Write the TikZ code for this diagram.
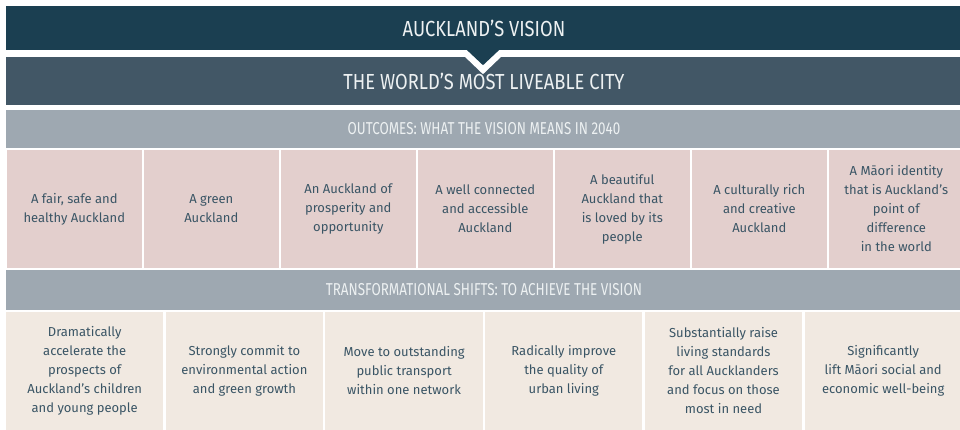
\documentclass[tikz,border=0pt]{standalone}
\usepackage{fontspec}
\setmainfont{Fira Sans}
\newfontfamily\headfont[FakeStretch=0.84]{Fira Sans}
\newfontfamily\bandfont[FakeStretch=0.78]{Fira Sans}
\usetikzlibrary{positioning,calc}
\definecolor{visionblue}{HTML}{1B3F51}
\definecolor{cityblue}{HTML}{425766}
\definecolor{bandgrey}{HTML}{9EA8B1}
\definecolor{outcomepink}{HTML}{E3CFCD}
\definecolor{shiftbeige}{HTML}{F1E9E1}
\definecolor{celltext}{HTML}{3A5565}
\definecolor{headtext}{HTML}{EDF1F2}
\begin{document}
\begin{tikzpicture}[x=1pt,y=-1pt,
    banner/.style={inner sep=0pt, minimum width=956pt, text=headtext},
    outcomecell/.style={fill=outcomepink, inner sep=0pt, minimum width=134.6pt, minimum height=118pt, align=center, text=celltext, font=\fontsize{13}{19}\selectfont},
    shiftcell/.style={fill=shiftbeige, inner sep=0pt, minimum width=157.3pt, minimum height=118pt, align=center, text=celltext, font=\fontsize{13}{19}\selectfont}]
    \useasboundingbox (0,0) rectangle (960,430);
    \node [banner, fill=visionblue, minimum height=44pt, font=\headfont\fontsize{21.8}{22}\selectfont] (vision) at (484,28) {AUCKLAND’S VISION};
    \node [banner, fill=cityblue, minimum height=48pt, font=\headfont\fontsize{21.8}{22}\selectfont] (city) at (484,81) {THE WORLD’S MOST LIVEABLE CITY};
    \fill [white] ($(vision.south)+(-26,0)$) -- ($(vision.south)+(24,0)$) -- ($(vision.south)+(-1,24)$) -- cycle;
    \fill [visionblue] ($(vision.south)+(-18,-1)$) -- ($(vision.south)+(16,-1)$) -- ($(vision.south)+(-1,15)$) -- cycle;
    \node [banner, fill=bandgrey, minimum height=38pt, font=\bandfont\fontsize{17.2}{18}\selectfont] (outcomes) at (484,129) {OUTCOMES: WHAT THE VISION MEANS IN 2040};

    \node [outcomecell] (o1) at (74.3,209) {A fair, safe and\\healthy Auckland};
    \node [outcomecell, right=2pt of o1] (o2) {A green\\Auckland};
    \node [outcomecell, right=2pt of o2] (o3) {An Auckland of\\prosperity and\\opportunity};
    \node [outcomecell, right=2pt of o3] (o4) {A well connected\\and accessible\\Auckland};
    \node [outcomecell, right=2pt of o4] (o5) {A beautiful\\Auckland that\\is loved by its\\people};
    \node [outcomecell, right=2pt of o5] (o6) {A culturally rich\\and creative\\Auckland};
    \node [outcomecell, right=2pt of o6] (o7) {A Māori identity\\that is Auckland’s\\point of\\difference\\in the world};

    \node [banner, fill=bandgrey, minimum height=40pt, font=\bandfont\fontsize{17.2}{18}\selectfont] (shifts) at (484,290) {TRANSFORMATIONAL SHIFTS: TO ACHIEVE THE VISION};

    \node [shiftcell] (s1) at (84.7,371) {Dramatically\\accelerate the\\prospects of\\Auckland’s children\\and young people};
    \node [shiftcell, right=2pt of s1] (s2) {Strongly commit to\\environmental action\\and green growth};
    \node [shiftcell, right=2pt of s2] (s3) {Move to outstanding\\public transport\\within one network};
    \node [shiftcell, right=2pt of s3] (s4) {Radically improve\\the quality of\\urban living};
    \node [shiftcell, right=2pt of s4] (s5) {Substantially raise\\living standards\\for all Aucklanders\\and focus on those\\most in need};
    \node [shiftcell, right=2pt of s5] (s6) {Significantly\\lift Māori social and\\economic well-being};
\end{tikzpicture}
\end{document}
